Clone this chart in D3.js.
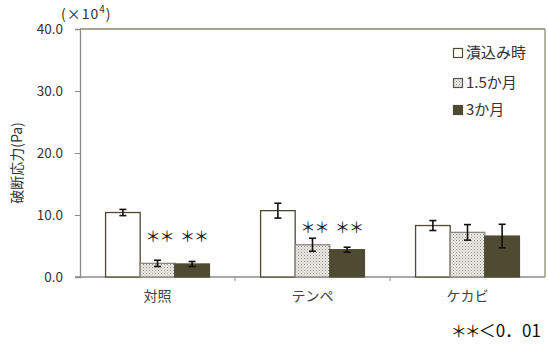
<!DOCTYPE html>
<html><head><meta charset="utf-8">
<script src="https://cdn.jsdelivr.net/npm/d3@7"></script>
<style>body{margin:0;background:#fff}svg{display:block}</style>
</head><body>
<script>
const categories = ["対照", "テンペ", "ケカビ"];
const seriesNames = ["漬込み時", "1.5か月", "3か月"];
const values = [
  [10.4, 2.2, 2.1],
  [10.7, 5.2, 4.4],
  [8.3, 7.2, 6.6]
];
const errors = [
  [0.5, 0.5, 0.4],
  [1.2, 1.05, 0.4],
  [0.8, 1.25, 1.9]
];
const significant = [
  [false, true, true],
  [false, true, true],
  [false, false, false]
];
const sigLevel = [6.6, 8.0, 0];   // height (data units) of the ** marks per category
const yTicks = [0, 10, 20, 30, 40];

const W = 548, H = 350;
const m = {left: 80, right: 3, top: 29, bottom: 73};
const svg = d3.select("body").append("svg").attr("width", W).attr("height", H);
const font = "'Noto Sans CJK JP', 'Noto Sans', sans-serif";

const defs = svg.append("defs");
const pat = defs.append("pattern").attr("id", "dots").attr("patternUnits", "userSpaceOnUse")
  .attr("width", 3).attr("height", 3);
pat.append("rect").attr("width", 3).attr("height", 3).attr("fill", "#ecebe6");
pat.append("rect").attr("x", 0).attr("y", 0).attr("width", 1).attr("height", 1).attr("fill", "#8e8d86");
pat.append("rect").attr("x", 1.5).attr("y", 1.5).attr("width", 1).attr("height", 1).attr("fill", "#a8a7a0");

const fills = ["#ffffff", "url(#dots)", "#4f4a32"];
const strokes = ["#4f4a32", "#8a8a80", "#4f4a32"];

const x0 = d3.scaleBand().domain(categories).range([m.left, W - m.right]).padding(0);
const x1 = d3.scaleBand().domain(d3.range(seriesNames.length))
  .range([x0.bandwidth() * 0.165, x0.bandwidth() * 0.835]).padding(0);
const y = d3.scaleLinear().domain([0, 40]).range([H - m.bottom, m.top]);

// plot border (top & right)
svg.append("line").attr("x1", m.left).attr("x2", W - m.right).attr("y1", m.top).attr("y2", m.top)
  .attr("stroke", "#8c8a70").attr("stroke-width", 1.3);
svg.append("line").attr("x1", W - m.right).attr("x2", W - m.right).attr("y1", m.top).attr("y2", H - m.bottom)
  .attr("stroke", "#8c8a70").attr("stroke-width", 1.3);

// y axis
const yAxis = svg.append("g").attr("transform", `translate(${m.left},0)`)
  .call(d3.axisLeft(y).tickValues(yTicks).tickFormat(d3.format(".1f")).tickSize(5).tickPadding(12));
yAxis.select(".domain").attr("stroke", "#8c8c8c").attr("stroke-width", 1.3);
yAxis.selectAll(".tick line").attr("stroke", "#8c8c8c");
yAxis.selectAll("text").attr("font-family", font).attr("font-size", 13.5).attr("fill", "#333");

// x axis
const xAxis = svg.append("g").attr("transform", `translate(0,${H - m.bottom})`)
  .call(d3.axisBottom(x0).tickSize(0).tickPadding(14));
xAxis.select(".domain").attr("stroke", "#8c8c8c").attr("stroke-width", 1.3)
  .attr("d", `M${m.left - 5},0H${W - m.right}`);
xAxis.selectAll("text").attr("font-family", font).attr("font-size", 14).attr("fill", "#444");
xAxis.selectAll(".bound").data(categories.slice(1)).enter().append("line")
  .attr("x1", d => x0(d)).attr("x2", d => x0(d)).attr("y1", 0).attr("y2", 4)
  .attr("stroke", "#8c8c8c");

// bars
const groups = svg.append("g").selectAll("g").data(categories).enter().append("g")
  .attr("transform", d => `translate(${x0(d)},0)`);
groups.each(function(cat, ci) {
  const g = d3.select(this);
  values[ci].forEach((v, si) => {
    const bx = x1(si), bw = x1.bandwidth();
    g.append("rect").attr("x", bx).attr("y", y(v)).attr("width", bw).attr("height", y(0) - y(v))
      .attr("fill", fills[si]).attr("stroke", strokes[si]).attr("stroke-width", 1.3);
    const cx = bx + bw / 2, e = errors[ci][si];
    g.append("line").attr("x1", cx).attr("x2", cx).attr("y1", y(v + e)).attr("y2", y(v - e))
      .attr("stroke", "#111").attr("stroke-width", 1.6);
    [v + e, v - e].forEach(t => g.append("line").attr("x1", cx - 3.5).attr("x2", cx + 3.5)
      .attr("y1", y(t)).attr("y2", y(t)).attr("stroke", "#111").attr("stroke-width", 1.6));
    if (significant[ci][si]) {
      g.append("text").attr("x", cx + 2).attr("y", y(sigLevel[ci])).attr("dy", "0.38em")
        .attr("text-anchor", "middle")
        .attr("font-family", font).attr("font-size", 15).attr("fill", "#222")
        .attr("letter-spacing", "-1px").text("＊＊");
    }
  });
});

// legend
const legend = svg.append("g");
const legendY = [53, 83, 110];
seriesNames.forEach((s, i) => {
  legend.append("rect").attr("x", 453.5).attr("y", legendY[i] - 4.5).attr("width", 9).attr("height", 9)
    .attr("fill", fills[i]).attr("stroke", i === 1 ? "#555" : "#4f4a32").attr("stroke-width", 1.2);
  legend.append("text").attr("x", 466).attr("y", legendY[i]).attr("dy", "0.36em")
    .attr("font-family", font).attr("font-size", 15).attr("fill", "#333").text(s);
});

// y title
svg.append("text").attr("transform", "translate(22,163) rotate(-90)").attr("text-anchor", "middle")
  .attr("font-family", font).attr("font-size", 14).attr("fill", "#333").text("破断応力(Pa)");

// unit
const unit = svg.append("text").attr("x", 61).attr("y", 19).attr("font-family", font)
  .attr("font-size", 14).attr("fill", "#333").attr("letter-spacing", "1px");
unit.append("tspan").text("(×10");
unit.append("tspan").attr("dy", -6).attr("font-size", 10).text("4");
unit.append("tspan").attr("dy", 6).text(")");

// significance note
const note = svg.append("text").attr("x", 541).attr("y", 337).attr("text-anchor", "end")
  .attr("font-family", font).attr("font-size", 17).attr("fill", "#111");
note.append("tspan").attr("font-size", 16).attr("letter-spacing", "-2px").text("＊＊");
note.append("tspan").text("＜0．01");
</script>
</body></html>
